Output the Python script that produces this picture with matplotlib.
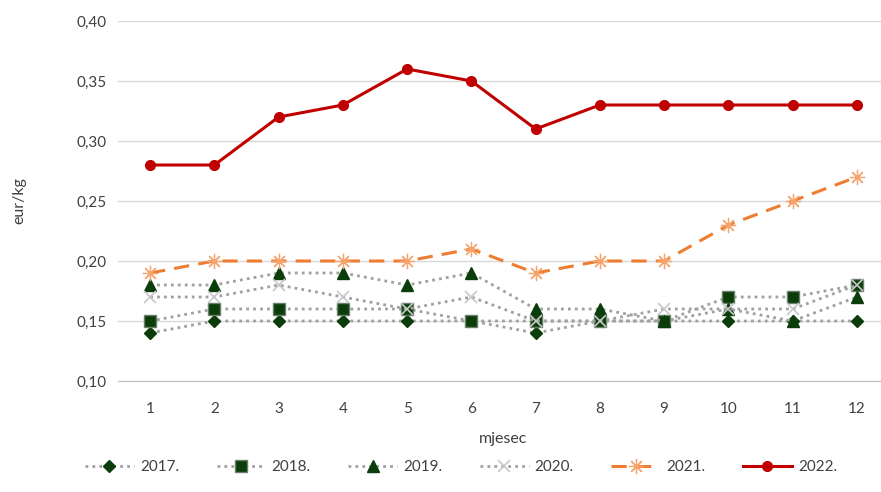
import matplotlib.pyplot as plt
from matplotlib.ticker import FuncFormatter

### data ###
months = list(range(1, 13))
y2017 = [0.14, 0.15, 0.15, 0.15, 0.15, 0.15, 0.14, 0.15, 0.15, 0.15, 0.15, 0.15]
y2018 = [0.15, 0.16, 0.16, 0.16, 0.16, 0.15, 0.15, 0.15, 0.15, 0.17, 0.17, 0.18]
y2019 = [0.18, 0.18, 0.19, 0.19, 0.18, 0.19, 0.16, 0.16, 0.15, 0.16, 0.15, 0.17]
y2020 = [0.17, 0.17, 0.18, 0.17, 0.16, 0.17, 0.15, 0.15, 0.16, 0.16, 0.16, 0.18]
y2021 = [0.19, 0.20, 0.20, 0.20, 0.20, 0.21, 0.19, 0.20, 0.20, 0.23, 0.25, 0.27]
y2022 = [0.28, 0.28, 0.32, 0.33, 0.36, 0.35, 0.31, 0.33, 0.33, 0.33, 0.33, 0.33]

plt.rcParams['font.family'] = ['Lato', 'DejaVu Sans']
green = '#0b3d0b'
grey = '#a0a0a0'

fig = plt.figure(figsize=(8.81, 4.92), dpi=100)
ax = fig.add_axes([118 / 881, 1 - 381 / 492, 771 / 881, 360 / 492])

ax.plot(months, y2017, ls=(0, (1, 1.5)), lw=2, color=grey, marker='D', ms=6,
        mfc=green, mec=green, label='2017.')
ax.plot(months, y2018, ls=(0, (1, 1.5)), lw=2, color=grey, marker='s', ms=8,
        mfc=green, mec='#6a7f6a', label='2018.')
ax.plot(months, y2019, ls=(0, (1, 1.5)), lw=2, color=grey, marker='^', ms=8,
        mfc=green, mec=green, label='2019.')
ax.plot(months, y2020, ls=(0, (1, 1.5)), lw=2, color=grey, marker='x', ms=9,
        mec='#c8c8c8', mew=1.2, label='2020.')
ax.plot(months, y2021, ls=(0, (5, 3)), lw=2.2, color='#ed7d31', marker=(8, 2, 0), ms=11,
        mec='#f4a46c', mew=0.9, label='2021.')
ax.plot(months, y2022, ls='-', lw=2.2, color='#c00000', marker='o', ms=7,
        mfc='#c00000', mec='#c00000', label='2022.')

ax.set_xlim(0.5, 12.5)
ax.set_ylim(0.10, 0.40)
ax.set_xticks(months)
ax.set_yticks([0.10, 0.15, 0.20, 0.25, 0.30, 0.35, 0.40])
ax.yaxis.set_major_formatter(FuncFormatter(lambda v, p: ('%.2f' % v).replace('.', ',')))
ax.grid(axis='y', color='#d9d9d9', lw=1)
ax.set_axisbelow(True)
for s in ['top', 'right', 'left']:
    ax.spines[s].set_visible(False)
ax.spines['bottom'].set_color('#bfbfbf')
ax.tick_params(axis='y', length=0, labelsize=11, colors='#404040', pad=8)
ax.tick_params(axis='x', length=0, labelsize=11, colors='#404040', pad=15)

ax.set_xlabel('mjesec', fontsize=11.5, color='#404040', labelpad=12)
ax.set_ylabel('eur/kg', fontsize=11.5, color='#404040', labelpad=36)

fig.legend(loc='center', bbox_to_anchor=(461 / 881, 1 - 467 / 492), ncol=6, frameon=False,
           fontsize=11, labelcolor='#404040', handlelength=3.2, columnspacing=2.45,
           handletextpad=0.4)

plt.savefig('out.png')
